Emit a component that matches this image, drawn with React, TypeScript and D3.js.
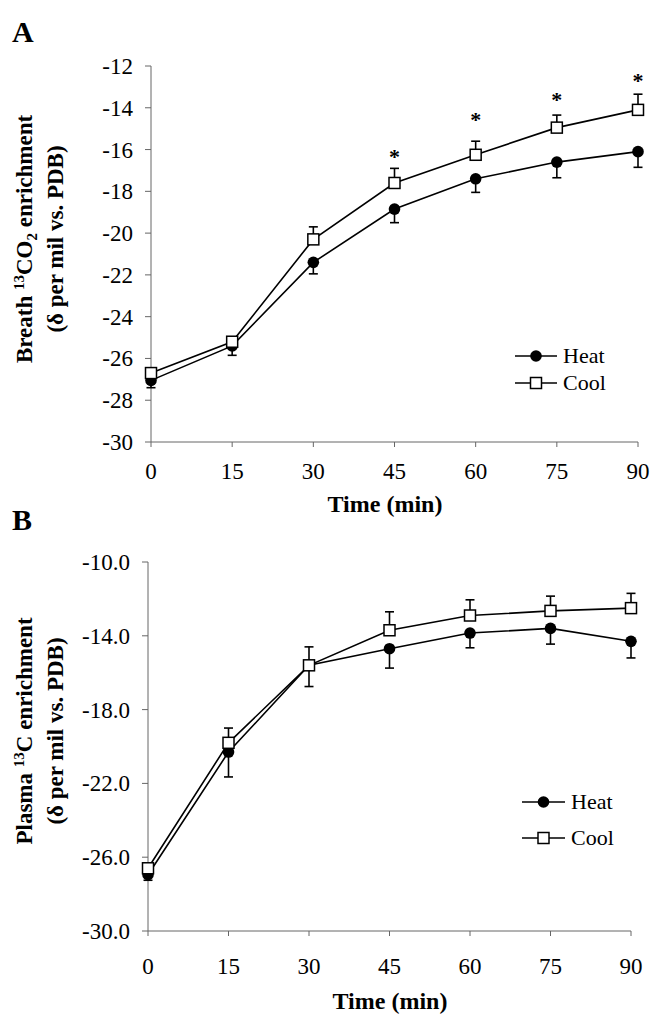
import React from 'react'
import * as d3 from 'd3'

const times = [0, 15, 30, 45, 60, 75, 90]

// Panel A: breath 13CO2 enrichment
const breathHeat = [-27.05, -25.4, -21.4, -18.85, -17.4, -16.6, -16.1]
const breathHeatErr = [0.35, 0.45, 0.55, 0.65, 0.65, 0.75, 0.75]
const breathCool = [-26.7, -25.2, -20.3, -17.6, -16.25, -14.95, -14.1]
const breathCoolErr = [0.2, 0.2, 0.6, 0.7, 0.65, 0.6, 0.75]
const breathStars = [null, null, null, -16.2, -14.45, -13.5, -12.6]
const breathTicks = [-30, -28, -26, -24, -22, -20, -18, -16, -14, -12]

// Panel B: plasma 13C enrichment
const plasmaHeat = [-26.95, -20.3, -15.6, -14.7, -13.85, -13.6, -14.3]
const plasmaHeatErr = [0.3, 1.35, 1.15, 1.05, 0.8, 0.85, 0.9]
const plasmaCool = [-26.6, -19.8, -15.6, -13.7, -12.9, -12.65, -12.5]
const plasmaCoolErr = [0.2, 0.8, 1.0, 1.0, 0.85, 0.8, 0.8]
const plasmaStars = [null, null, null, null, null, null, null]
const plasmaTicks = [-30, -26, -22, -18, -14, -10]

const serif = '"Liberation Serif", "Times New Roman", serif'

type PanelProps = {
  letter: string
  letterY: number
  x0: number
  x1: number
  yTop: number
  yBot: number
  yDomain: [number, number]
  ticks: number[]
  fmt: (v: number) => string
  tickLabelX: number
  xLabelY: number
  titleX: number
  titleY: number
  ylabCenter: number
  ylab: React.ReactNode
  heat: number[]
  heatErr: number[]
  cool: number[]
  coolErr: number[]
  stars: (number | null)[]
  legX: [number, number]
  legY: [number, number]
}

const Panel = (p: PanelProps) => {
  const x = d3.scaleLinear().domain([0, 90]).range([p.x0, p.x1])
  const y = d3.scaleLinear().domain(p.yDomain).range([p.yBot, p.yTop])
  const line = d3.line<number>().x((_, i) => x(times[i])).y(d => y(d))
  const cap = 4.5
  const legMid = (p.legX[0] + p.legX[1]) / 2

  return (
    <g>
      <text x={12} y={p.letterY} fontFamily={serif} fontWeight="bold" fontSize={30}>{p.letter}</text>

      {/* axes */}
      <line x1={p.x0} x2={p.x0} y1={p.yTop} y2={p.yBot} stroke="#666" strokeWidth={1} />
      <line x1={p.x0} x2={p.x1} y1={p.yBot} y2={p.yBot} stroke="#666" strokeWidth={1} />
      {p.ticks.map(t => (
        <g key={'y' + t}>
          <line x1={p.x0 - 6} x2={p.x0} y1={y(t)} y2={y(t)} stroke="#666" />
          <text x={p.tickLabelX} y={y(t)} dy="0.35em" textAnchor="end" fontFamily={serif} fontSize={23}>{p.fmt(t)}</text>
        </g>
      ))}
      {times.map(t => (
        <g key={'x' + t}>
          <line x1={x(t)} x2={x(t)} y1={p.yBot} y2={p.yBot + 5} stroke="#666" />
          <text x={x(t)} y={p.xLabelY} textAnchor="middle" fontFamily={serif} fontSize={23}>{t}</text>
        </g>
      ))}
      <text x={p.titleX} y={p.titleY} textAnchor="middle" fontFamily={serif} fontWeight="bold" fontSize={24}>Time (min)</text>
      {p.ylab}

      {/* lines */}
      <path d={line(p.heat) || ''} fill="none" stroke="#000" strokeWidth={1.6} />
      <path d={line(p.cool) || ''} fill="none" stroke="#000" strokeWidth={1.6} />

      {/* error bars: heat down, cool up */}
      {p.heat.map((v, i) => (
        <g key={'he' + i} stroke="#000" strokeWidth={1.6}>
          <line x1={x(times[i])} x2={x(times[i])} y1={y(v)} y2={y(v - p.heatErr[i])} />
          <line x1={x(times[i]) - cap} x2={x(times[i]) + cap} y1={y(v - p.heatErr[i])} y2={y(v - p.heatErr[i])} />
        </g>
      ))}
      {p.cool.map((v, i) => (
        <g key={'ce' + i} stroke="#000" strokeWidth={1.6}>
          <line x1={x(times[i])} x2={x(times[i])} y1={y(v)} y2={y(v + p.coolErr[i])} />
          <line x1={x(times[i]) - cap} x2={x(times[i]) + cap} y1={y(v + p.coolErr[i])} y2={y(v + p.coolErr[i])} />
        </g>
      ))}

      {/* markers */}
      {p.heat.map((v, i) => (
        <circle key={'hm' + i} cx={x(times[i])} cy={y(v)} r={5.8} fill="#000" />
      ))}
      {p.cool.map((v, i) => (
        <rect key={'cm' + i} x={x(times[i]) - 5.5} y={y(v) - 5.5} width={11} height={11} fill="#fff" stroke="#000" strokeWidth={1.5} />
      ))}

      {p.stars.map((s, i) => s === null ? null : (
        <text key={'s' + i} x={x(times[i])} y={y(s)} dy="0.45em" textAnchor="middle" fontFamily={serif} fontWeight="bold" fontSize={22}>*</text>
      ))}

      {/* legend */}
      <line x1={p.legX[0]} x2={p.legX[1]} y1={p.legY[0]} y2={p.legY[0]} stroke="#000" strokeWidth={1.6} />
      <circle cx={legMid} cy={p.legY[0]} r={5.8} fill="#000" />
      <text x={p.legX[1] + 6} y={p.legY[0]} dy="0.33em" fontFamily={serif} fontSize={22}>Heat</text>
      <line x1={p.legX[0]} x2={p.legX[1]} y1={p.legY[1]} y2={p.legY[1]} stroke="#000" strokeWidth={1.6} />
      <rect x={legMid - 5.5} y={p.legY[1] - 5.5} width={11} height={11} fill="#fff" stroke="#000" strokeWidth={1.5} />
      <text x={p.legX[1] + 6} y={p.legY[1]} dy="0.33em" fontFamily={serif} fontSize={22}>Cool</text>
    </g>
  )
}

const YLabel = ({ cy, first }: { cy: number; first: React.ReactNode }) => (
  <g fontFamily={serif} fontWeight="bold" fontSize={23}>
    <text transform={`translate(32,${cy}) rotate(-90)`} textAnchor="middle">{first}</text>
    <text transform={`translate(63,${cy}) rotate(-90)`} textAnchor="middle">(δ per mil vs. PDB)</text>
  </g>
)

const App = () => {
  return (
    <svg width={650} height={1021} style={{ position: 'absolute', left: 0, top: 0, background: '#fff' }}>
      <Panel
        letter="A" letterY={42}
        x0={151} x1={638} yTop={66} yBot={442} yDomain={[-30, -12]}
        ticks={breathTicks} fmt={v => String(v)} tickLabelX={133}
        xLabelY={479} titleX={385} titleY={512}
        ylabCenter={239}
        ylab={<YLabel cy={239} first={<>Breath <tspan fontSize={15} dy={-8}>13</tspan><tspan dy={8}>CO</tspan><tspan fontSize={15} dy={5}>2</tspan><tspan dy={-5}> enrichment</tspan></>} />}
        heat={breathHeat} heatErr={breathHeatErr} cool={breathCool} coolErr={breathCoolErr}
        stars={breathStars}
        legX={[515, 557]} legY={[356, 383]}
      />
      <Panel
        letter="B" letterY={530}
        x0={148} x1={631} yTop={562} yBot={931} yDomain={[-30, -10]}
        ticks={plasmaTicks} fmt={v => v.toFixed(1)} tickLabelX={130}
        xLabelY={974} titleX={390} titleY={1009}
        ylabCenter={731}
        ylab={<YLabel cy={731} first={<>Plasma <tspan fontSize={15} dy={-8}>13</tspan><tspan dy={8}>C enrichment</tspan></>} />}
        heat={plasmaHeat} heatErr={plasmaHeatErr} cool={plasmaCool} coolErr={plasmaCoolErr}
        stars={plasmaStars}
        legX={[522, 565]} legY={[802, 838]}
      />
    </svg>
  )
}

export default App
